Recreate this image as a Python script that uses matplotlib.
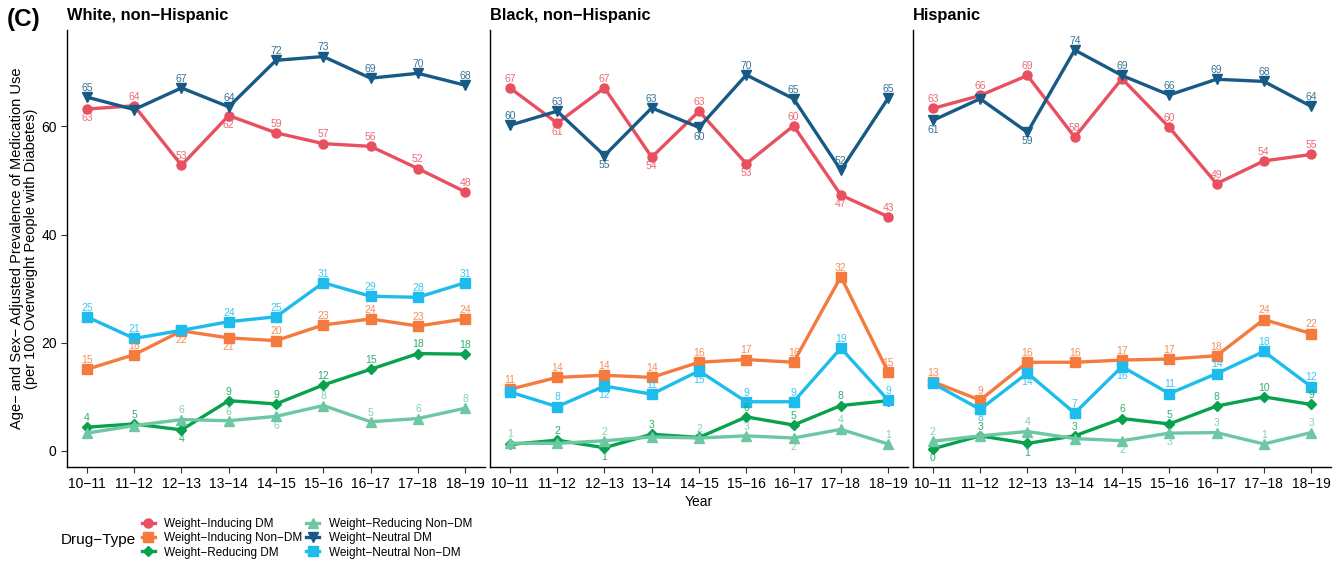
import numpy as np
import matplotlib
matplotlib.use("Agg")
import matplotlib.pyplot as plt
from matplotlib.lines import Line2D

plt.rcParams['font.family'] = ['Liberation Sans', 'DejaVu Sans']

# survey periods and groups
years = ["10−11", "11−12", "12−13", "13−14", "14−15", "15−16", "16−17", "17−18", "18−19"]
groups = ["White, non−Hispanic", "Black, non−Hispanic", "Hispanic"]

# prevalence per drug type, one row per group (white, black, hispanic)
inducing_dm = [
    [63.2, 63.8, 52.8, 62.0, 58.8, 56.8, 56.3, 52.2, 47.9],
    [67.1, 60.6, 67.1, 54.3, 62.8, 53.1, 60.1, 47.3, 43.3],
    [63.3, 65.7, 69.4, 58.0, 68.8, 59.8, 49.4, 53.6, 54.8],
]
inducing_nondm = [
    [15.1, 17.8, 22.2, 20.9, 20.4, 23.3, 24.4, 23.1, 24.4],
    [11.4, 13.6, 14.0, 13.6, 16.4, 16.9, 16.4, 32.2, 14.6],
    [12.8, 9.4, 16.4, 16.4, 16.8, 17.0, 17.6, 24.3, 21.7],
]
reducing_dm = [
    [4.4, 5.0, 3.9, 9.3, 8.7, 12.2, 15.1, 18.0, 17.9],
    [1.2, 2.0, 0.6, 3.1, 2.5, 6.3, 4.8, 8.4, 9.3],
    [0.4, 2.8, 1.4, 2.8, 6.0, 5.0, 8.3, 10.0, 8.6],
]
reducing_nondm = [
    [3.3, 4.7, 5.8, 5.6, 6.4, 8.4, 5.4, 6.0, 7.9],
    [1.45, 1.4, 1.9, 2.6, 2.4, 2.8, 2.4, 4.0, 1.3],
    [1.8, 2.8, 3.6, 2.3, 1.9, 3.3, 3.4, 1.3, 3.4],
]
neutral_dm = [
    [65.4, 63.1, 67.1, 63.6, 72.2, 72.9, 68.9, 69.8, 67.6],
    [60.2, 62.8, 54.6, 63.4, 59.8, 69.5, 65.1, 51.9, 65.2],
    [61.1, 65.1, 58.9, 74.1, 69.4, 65.8, 68.7, 68.3, 63.7],
]
neutral_nondm = [
    [24.8, 20.8, 22.3, 23.9, 24.8, 31.1, 28.6, 28.4, 31.1],
    [10.9, 8.2, 12.0, 10.5, 14.8, 9.1, 9.1, 19.0, 9.4],
    [12.5, 7.7, 14.4, 7.0, 15.6, 10.6, 14.3, 18.4, 11.9],
]

# where each value label sits: 1 above, -1 below, 0 dropped (overlap)
inducing_dm_side = [
    [-1, 1, 1, -1, 1, 1, 1, 1, 1],
    [1, -1, 1, -1, 1, -1, 1, -1, 1],
    [1, 1, 1, 1, 0, 1, 1, 1, 1],
]
inducing_nondm_side = [
    [1, 1, -1, -1, 1, 1, 1, 1, 1],
    [1, 1, 1, 1, 1, 1, 1, 1, 1],
    [1, 1, 1, 1, 1, 1, 1, 1, 1],
]
reducing_dm_side = [
    [1, 1, -1, 1, 1, 1, 1, 1, 1],
    [0, 1, -1, 1, 0, 1, 1, 1, 0],
    [-1, 1, -1, 1, 1, 1, 1, 1, 1],
]
reducing_nondm_side = [
    [0, 0, 1, 1, -1, 1, 1, 1, 1],
    [1, 0, 1, 0, 1, 1, -1, 1, 1],
    [1, 0, 1, 0, -1, -1, 1, 1, 1],
]
neutral_dm_side = [
    [1, 0, 1, 1, 1, 1, 1, 1, 1],
    [1, 1, -1, 1, -1, 1, 1, 1, 1],
    [-1, 0, -1, 1, 1, 1, 1, 1, 1],
]
neutral_nondm_side = [
    [1, 1, 0, 1, 1, 1, 1, 1, 1],
    [0, 1, -1, 1, -1, 1, 1, 1, 1],
    [0, -1, -1, 1, -1, 1, 1, 1, 1],
]

series = [
    ("Weight−Inducing DM", inducing_dm, inducing_dm_side, "#E9505F", "o", 6.5),
    ("Weight−Inducing Non−DM", inducing_nondm, inducing_nondm_side, "#F47A3E", "s", 6.5),
    ("Weight−Reducing DM", reducing_dm, reducing_dm_side, "#08A24E", "D", 5.5),
    ("Weight−Reducing Non−DM", reducing_nondm, reducing_nondm_side, "#6DC7A2", "^", 7),
    ("Weight−Neutral DM", neutral_dm, neutral_dm_side, "#175A85", "v", 7),
    ("Weight−Neutral Non−DM", neutral_nondm, neutral_nondm_side, "#1EBCEC", "s", 6.5),
]

fig, axes = plt.subplots(1, 3, figsize=(13.44, 5.62), dpi=100, sharey=True)
fig.subplots_adjust(left=0.0499, right=0.9903, top=0.9466, bottom=0.1696, wspace=0.012)

x = np.arange(len(years))
for g, ax in enumerate(axes):
    for name, vals, sides, col, mk, ms in series:
        v = np.array(vals[g])
        ax.plot(x, v, color=col, lw=2.4, marker=mk, ms=ms, mec=col, label=name, zorder=3)
        for xi, vi, s in zip(x, v, sides[g]):
            if s == 0:
                continue
            ax.annotate(str(int(np.floor(vi + 0.5))), (xi, vi), xytext=(0, 6.6 * s),
                        textcoords="offset points", ha="center", va="center",
                        fontsize=7.5, color=col, alpha=0.85, zorder=4)
    ax.set_xlim(-0.42, 8.42)
    ax.set_ylim(-2.9, 77.8)
    ax.set_xticks(x)
    ax.set_xticklabels(years, fontsize=10)
    ax.set_yticks([0, 20, 40, 60])
    ax.tick_params(axis="both", length=4, width=0.8, color="#333333", labelsize=10, labelcolor="black")
    for sp in ("top", "right"):
        ax.spines[sp].set_visible(False)
    for sp in ("left", "bottom"):
        ax.spines[sp].set_linewidth(1.0)
        ax.spines[sp].set_color("black")
    ax.set_title(groups[g], loc="left", fontsize=11.8, fontweight="bold", pad=7)
    if g > 0:
        ax.tick_params(axis="y", length=0, labelleft=False)

axes[0].set_ylabel("Age− and Sex− Adjusted Prevalence of Medication Use\n(per 100 Overweight People with Diabetes)",
                   fontsize=10.5, labelpad=2, linespacing=1.05)
axes[1].set_xlabel("Year", fontsize=10, labelpad=3)

fig.text(0.005, 0.965, "(C)", fontsize=17.5, fontweight="bold", va="center", ha="left")

handles = [Line2D([], [], color=col, lw=2.4, marker=mk, ms=ms, mec=col)
           for name, vals, sides, col, mk, ms in series]
labels = [s[0] for s in series]
fig.legend(handles, labels, loc="upper left", bbox_to_anchor=(0.101, 0.089), ncol=2,
           frameon=False, fontsize=8.5, handlelength=1.1, handletextpad=0.8,
           labelspacing=0.2, columnspacing=0.35, borderpad=0)
fig.text(0.045, 0.040, "Drug−Type", fontsize=11, va="center", ha="left")

fig.savefig("out.png", dpi=100)
